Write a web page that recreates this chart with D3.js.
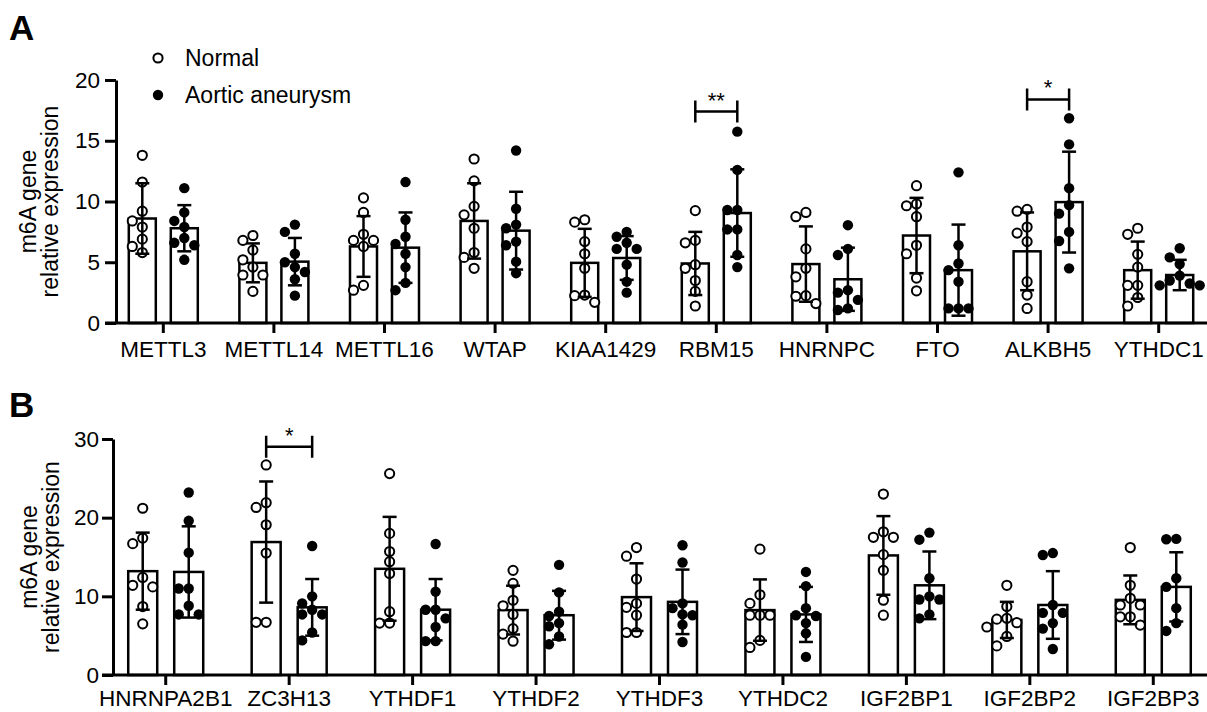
<!DOCTYPE html>
<html>
<head>
<meta charset="utf-8">
<script src="https://cdn.jsdelivr.net/npm/d3@7"></script>
<style>
  body { margin: 0; background: #fff; }
  svg { display: block; font-family: Arial, "Liberation Sans", sans-serif; }
</style>
</head>
<body>
<svg id="chart" width="1207" height="712"></svg>
<script>
// ---- panel A data (writers / erasers / readers) ----
var genesA = ["METTL3", "METTL14", "METTL16", "WTAP", "KIAA1429", "RBM15", "HNRNPC", "FTO", "ALKBH5", "YTHDC1"];
var normalA = [
  [13.8, 11.6, 9.2, 8.4, 7.9, 6.9, 6.3, 5.8],
  [7.2, 6.8, 6.0, 5.2, 4.6, 3.95, 3.95, 2.6],
  [10.3, 9.1, 7.3, 6.8, 6.8, 6.3, 3.1, 2.7],
  [13.5, 11.7, 9.6, 8.9, 7.8, 5.8, 5.4, 4.5],
  [8.5, 8.3, 6.7, 5.7, 4.5, 2.3, 2.25, 1.7],
  [9.25, 6.8, 6.6, 4.8, 4.5, 3.5, 2.6, 1.4],
  [9.1, 8.75, 6.1, 4.5, 3.8, 2.25, 2.2, 1.6],
  [11.3, 9.8, 9.65, 8.75, 6.4, 5.7, 3.7, 2.65],
  [9.35, 9.2, 7.9, 7.4, 6.7, 3.4, 2.3, 1.2],
  [7.8, 7.3, 5.65, 4.6, 3.1, 3.1, 2.1, 1.4]
];
var aneurysmA = [
  [11.1, 9.1, 8.4, 7.9, 7.0, 6.6, 6.4, 5.2],
  [8.1, 7.5, 5.7, 5.0, 4.6, 4.2, 3.6, 2.25],
  [11.6, 8.5, 7.1, 6.5, 5.7, 4.6, 3.3, 2.7],
  [14.2, 9.4, 8.1, 7.8, 6.7, 6.4, 5.05, 4.1],
  [7.5, 7.1, 6.6, 6.1, 6.1, 4.8, 3.4, 2.5],
  [15.75, 12.6, 9.3, 9.3, 7.7, 7.7, 5.6, 4.6],
  [8.05, 6.1, 5.6, 2.7, 2.5, 1.9, 1.2, 1.07],
  [12.4, 6.4, 4.9, 4.35, 3.4, 1.2, 1.2, 1.2],
  [16.85, 14.7, 11.1, 9.7, 9.0, 7.5, 6.75, 4.5],
  [6.15, 5.4, 4.85, 3.9, 3.5, 3.25, 3.1, 3.1]
];
var normalMeanA = [8.6, 4.95, 6.3, 8.4, 4.95, 4.9, 4.85, 7.2, 5.9, 4.35];
var normalSdA = [2.9, 1.6, 2.5, 3.1, 2.8, 2.6, 3.1, 3.1, 3.2, 2.35];
var aneurysmMeanA = [7.8, 5.05, 6.2, 7.6, 5.35, 9.05, 3.6, 4.35, 9.95, 3.95];
var aneurysmSdA = [1.9, 1.95, 2.9, 3.2, 1.8, 3.6, 2.6, 3.75, 4.15, 1.25];
var ticksA = [0, 5, 10, 15, 20];
var sigA = [{gene: "RBM15", label: "**", value: 17.4}, {gene: "ALKBH5", label: "*", value: 18.4}];

// ---- panel B data (readers) ----
var genesB = ["HNRNPA2B1", "ZC3H13", "YTHDF1", "YTHDF2", "YTHDF3", "YTHDC2", "IGF2BP1", "IGF2BP2", "IGF2BP3"];
var normalB = [
  [21.2, 17.4, 16.7, 12.4, 11.4, 11.2, 8.7, 6.5],
  [26.7, 21.9, 21.3, 19.1, 15.5, 6.7, 6.7],
  [25.6, 18.0, 15.7, 14.4, 12.9, 8.05, 6.6, 6.6],
  [13.3, 11.65, 9.5, 8.8, 7.7, 5.9, 5.2, 4.3],
  [16.2, 15.1, 12.2, 9.1, 8.6, 7.6, 5.4, 5.4],
  [16.0, 10.2, 9.1, 7.6, 7.6, 7.6, 4.4, 3.5],
  [23.0, 18.2, 17.5, 17.5, 15.3, 13.3, 9.5, 7.6],
  [11.4, 8.7, 7.2, 7.1, 6.65, 6.1, 4.9, 3.7],
  [16.2, 11.4, 9.75, 8.9, 8.9, 7.4, 7.4, 6.35]
];
var aneurysmB = [
  [23.2, 19.6, 15.55, 11.0, 11.0, 8.8, 7.7, 7.7],
  [16.4, 10.0, 9.1, 8.3, 7.7, 7.7, 5.4, 4.4],
  [16.65, 10.6, 8.3, 8.3, 7.2, 6.1, 4.3, 4.3],
  [14.0, 10.5, 8.05, 7.5, 6.6, 6.2, 4.9, 3.9],
  [16.5, 14.3, 9.1, 8.5, 7.7, 7.6, 6.4, 4.2],
  [13.1, 11.3, 8.5, 7.6, 7.5, 6.6, 5.3, 2.3],
  [18.1, 17.2, 12.3, 10.0, 9.6, 9.6, 7.7, 7.2],
  [15.5, 15.25, 8.9, 7.9, 7.9, 6.6, 5.9, 3.3],
  [17.3, 17.25, 12.3, 11.2, 8.5, 6.6, 5.6]
];
var normalMeanB = [13.2, 16.9, 13.5, 8.25, 9.9, 8.25, 15.2, 7.0, 9.55];
var normalSdB = [4.9, 7.7, 6.6, 3.1, 4.3, 3.9, 5.0, 2.3, 3.1];
var aneurysmMeanB = [13.1, 8.6, 8.3, 7.6, 9.3, 7.7, 11.4, 8.9, 11.2];
var aneurysmSdB = [5.8, 3.6, 3.9, 3.1, 4.1, 3.5, 4.3, 4.3, 4.4];
var ticksB = [0, 10, 20, 30];
var sigB = [{gene: "ZC3H13", label: "*", value: 29.0}];

var svg = d3.select("#chart");

// spread points sideways so they don't sit on top of each other
function swarm(values, y, step, minDist) {
  var order = values.map(function(v, i) { return i; })
    .sort(function(a, b) { return values[b] - values[a]; });
  var placed = [], offs = [];
  order.forEach(function(i) {
    var py = y(values[i]);
    var cands = [0, -step, step, -2 * step, 2 * step, -3 * step, 3 * step];
    for (var k = 0; k < cands.length; k++) {
      var ok = placed.every(function(p) {
        return Math.hypot(p.x - cands[k], p.y - py) >= minDist;
      });
      if (ok || k == cands.length - 1) {
        offs[i] = cands[k];
        placed.push({x: cands[k], y: py});
        break;
      }
    }
  });
  return offs;
}

function drawPanel(o) {
  var g = svg.append("g");
  var x = d3.scaleBand().domain(o.genes).range(o.xRange);
  var y = d3.scaleLinear().domain([0, d3.max(o.ticks)]).range(o.yRange);
  var center = function(gene) { return x(gene) + x.bandwidth() / 2; };

  var groups = [
    {off: -o.offset, filled: false, values: o.normal, mean: o.normalMean, sd: o.normalSd},
    {off: o.offset, filled: true, values: o.aneurysm, mean: o.aneurysmMean, sd: o.aneurysmSd}
  ];

  // bars
  groups.forEach(function(grp) {
    g.selectAll(null).data(o.genes).enter().append("rect")
      .attr("x", function(d) { return center(d) + grp.off - o.barWidth / 2; })
      .attr("y", function(d, i) { return y(grp.mean[i]); })
      .attr("width", o.barWidth)
      .attr("height", function(d, i) { return y(0) - y(grp.mean[i]); })
      .attr("fill", "#fff")
      .attr("stroke", "#000")
      .attr("stroke-width", 2.5);
  });

  // individual points
  groups.forEach(function(grp) {
    o.genes.forEach(function(gene, i) {
      var offs = swarm(grp.values[i], y, 10, 10);
      g.selectAll(null).data(grp.values[i]).enter().append("circle")
        .attr("cx", function(d, j) { return center(gene) + grp.off + offs[j]; })
        .attr("cy", function(d) { return y(d); })
        .attr("r", grp.filled ? 5.2 : 4.6)
        .attr("fill", grp.filled ? "#000" : "#fff")
        .attr("stroke", "#000")
        .attr("stroke-width", grp.filled ? 0 : 2);
    });
  });

  // mean +/- SD error bars
  groups.forEach(function(grp) {
    o.genes.forEach(function(gene, i) {
      var cx = center(gene) + grp.off;
      var top = y(grp.mean[i] + grp.sd[i]);
      var bot = y(Math.max(0, grp.mean[i] - grp.sd[i]));
      g.append("line").attr("x1", cx).attr("x2", cx).attr("y1", top).attr("y2", bot)
        .attr("stroke", "#000").attr("stroke-width", 2.5);
      [top, bot].forEach(function(yy) {
        g.append("line").attr("x1", cx - 7).attr("x2", cx + 7).attr("y1", yy).attr("y2", yy)
          .attr("stroke", "#000").attr("stroke-width", 2.5);
      });
    });
  });

  // significance brackets
  o.sig.forEach(function(s) {
    var x1 = center(s.gene) - o.offset, x2 = center(s.gene) + o.offset, yy = y(s.value);
    g.append("path")
      .attr("d", "M" + x1 + "," + (yy - 11) + "V" + (yy + 11) + "M" + x1 + "," + yy + "H" + x2 +
                 "M" + x2 + "," + (yy - 11) + "V" + (yy + 11))
      .attr("fill", "none").attr("stroke", "#000").attr("stroke-width", 2.5);
    g.append("text")
      .attr("x", (x1 + x2) / 2).attr("y", yy - 4)
      .attr("text-anchor", "middle")
      .style("font-size", "22px")
      .text(s.label);
  });

  // axes
  var yAxis = g.append("g")
    .attr("transform", "translate(" + o.xAxisLeft + ",0)")
    .call(d3.axisLeft(y).tickValues(o.ticks).tickSize(11).tickSizeOuter(0).tickPadding(o.yPad));
  var xAxis = g.append("g")
    .attr("transform", "translate(0," + y(0) + ")")
    .call(d3.axisBottom(x).tickSize(10).tickSizeOuter(0).tickPadding(o.xPad));
  [yAxis, xAxis].forEach(function(ax) {
    ax.select(".domain").attr("stroke-width", 3);
    ax.selectAll(".tick line").attr("stroke-width", 3);
    ax.selectAll("text").style("font-size", "22.5px").attr("fill", "#000");
  });
  xAxis.select(".domain").attr("d", "M" + (o.xAxisLeft - 11) + ",0H1207");

  // y axis title
  var cy = (o.yRange[0] + o.yRange[1]) / 2;
  ["m6A gene", "relative expression"].forEach(function(t, k) {
    g.append("text")
      .attr("transform", "translate(" + o.labelX[k] + "," + cy + ") rotate(-90)")
      .attr("text-anchor", "middle")
      .style("font-size", "23px")
      .text(t);
  });

  // panel letter
  g.append("text")
    .attr("x", 9).attr("y", o.letterY)
    .style("font-size", "35px").style("font-weight", "bold")
    .text(o.letter);
}

drawPanel({
  letter: "A", letterY: 40,
  genes: genesA, normal: normalA, aneurysm: aneurysmA,
  normalMean: normalMeanA, normalSd: normalSdA,
  aneurysmMean: aneurysmMeanA, aneurysmSd: aneurysmSdA,
  ticks: ticksA, sig: sigA,
  xRange: [108, 1214], yRange: [323, 80], xAxisLeft: 116,
  barWidth: 27, offset: 21, yPad: 5, xPad: 8, labelX: [36, 58]
});

drawPanel({
  letter: "B", letterY: 417,
  genes: genesB, normal: normalB, aneurysm: aneurysmB,
  normalMean: normalMeanB, normalSd: normalSdB,
  aneurysmMean: aneurysmMeanB, aneurysmSd: aneurysmSdB,
  ticks: ticksB, sig: sigB,
  xRange: [104, 1215], yRange: [675, 439], xAxisLeft: 113,
  barWidth: 29, offset: 23, yPad: 3, xPad: 5, labelX: [37, 59]
});

// legend (panel A)
var legend = svg.append("g");
var legendItems = ["Normal", "Aortic aneurysm"];
legend.selectAll("circle").data(legendItems).enter().append("circle")
  .attr("cx", 158)
  .attr("cy", function(d, i) { return 58 + i * 37; })
  .attr("r", function(d, i) { return i ? 5.2 : 4.6; })
  .attr("fill", function(d, i) { return i ? "#000" : "#fff"; })
  .attr("stroke", "#000")
  .attr("stroke-width", function(d, i) { return i ? 0 : 2; });
legend.selectAll("text").data(legendItems).enter().append("text")
  .attr("x", 185)
  .attr("y", function(d, i) { return 66 + i * 37; })
  .style("font-size", "23px")
  .text(function(d) { return d; });
</script>
</body>
</html>
